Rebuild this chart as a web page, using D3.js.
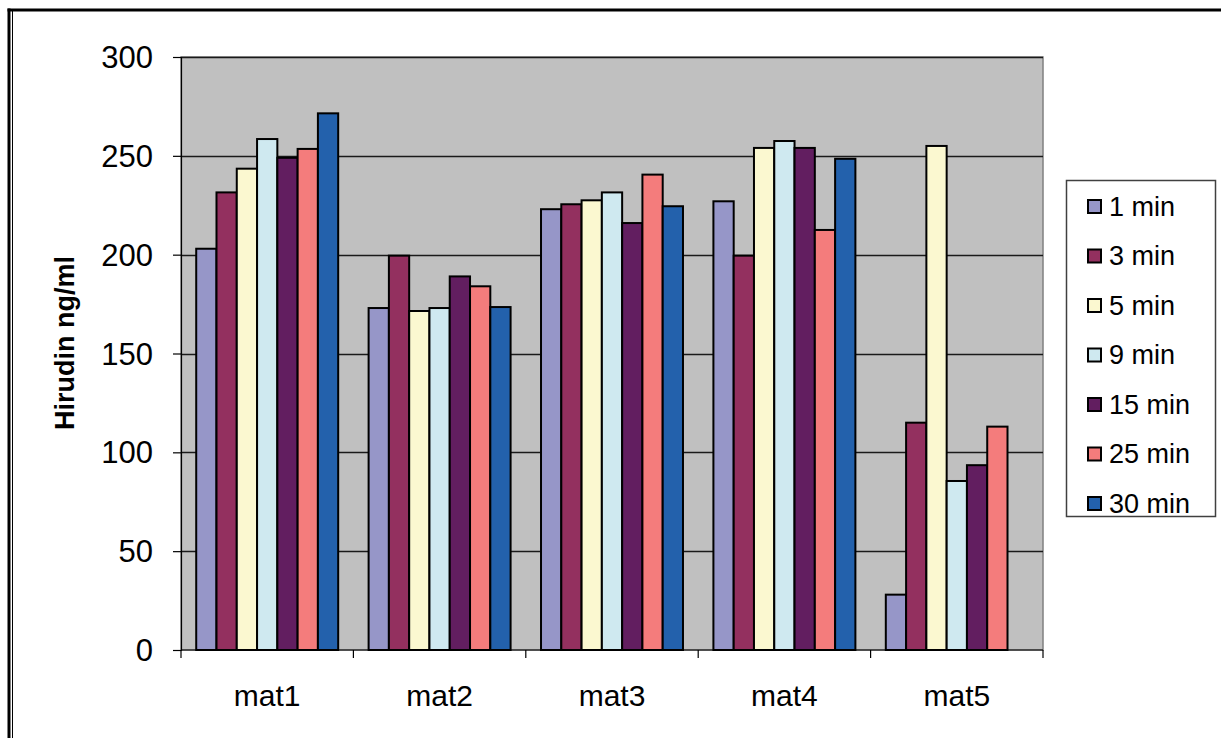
<!DOCTYPE html>
<html>
<head>
<meta charset="utf-8">
<script src="https://cdn.jsdelivr.net/npm/d3@7/dist/d3.min.js"></script>
<style>
  html, body { margin: 0; padding: 0; background: #fff; }
  svg { display: block; }
  text { font-family: "Liberation Sans", Arial, sans-serif; fill: #000; }
</style>
</head>
<body>
<svg id="chart" width="1221" height="738"></svg>
<script>
// ---- data ----
const categories = ["mat1", "mat2", "mat3", "mat4", "mat5"];
const seriesNames = ["1 min", "3 min", "5 min", "9 min", "15 min", "25 min", "30 min"];
const min1  = [203, 173, 223, 227, 28];
const min3  = [231.5, 199.5, 225.5, 199.5, 115];
const min5  = [243.5, 171.5, 227.5, 254, 255];
const min9  = [258.5, 173, 231.5, 257.5, 85.5];
const min15 = [249, 189, 216, 254, 93.5];
const min25 = [253.5, 184, 240.5, 212.5, 113];
const min30 = [271.5, 173.5, 224.5, 248.5, 0];
const seriesValues = [min1, min3, min5, min9, min15, min25, min30];
const seriesColors = ["#9696C8", "#93305F", "#FBF8D0", "#CFE9F0", "#621E60", "#F47C7C", "#2361AC"];
const yTicks = [0, 50, 100, 150, 200, 250, 300];
const yTitle = "Hirudin ng/ml";

// ---- layout ----
const svg = d3.select("#chart");
const plot = { left: 181, right: 1043, top: 57, bottom: 650 };

// outer frame (double line on the left, thick top)
svg.append("line").attr("x1", 9).attr("x2", 9).attr("y1", 8.5).attr("y2", 738)
  .attr("stroke", "#000").attr("stroke-width", 3);
svg.append("line").attr("x1", 7.5).attr("x2", 1221).attr("y1", 10).attr("y2", 10)
  .attr("stroke", "#000").attr("stroke-width", 3);
svg.append("line").attr("x1", 12.5).attr("x2", 12.5).attr("y1", 11).attr("y2", 738)
  .attr("stroke", "#000").attr("stroke-width", 1);

const y = d3.scaleLinear().domain([0, 300]).range([plot.bottom, plot.top]);
const x0 = d3.scaleBand().domain(categories).range([plot.left, plot.right]).padding(0);
const x1 = d3.scaleBand().domain(seriesNames).range([0, x0.bandwidth()])
  .paddingInner(0).paddingOuter(0.75);

// plot background
svg.append("rect")
  .attr("x", plot.left).attr("y", plot.top)
  .attr("width", plot.right - plot.left).attr("height", plot.bottom - plot.top)
  .attr("fill", "#C0C0C0").attr("stroke", "#808080").attr("stroke-width", 1.5);

// gridlines
svg.append("g").selectAll("line")
  .data(yTicks.filter(t => t > 0))
  .join("line")
  .attr("x1", plot.left).attr("x2", plot.right)
  .attr("y1", d => Math.round(y(d)) + 0.5).attr("y2", d => Math.round(y(d)) + 0.5)
  .attr("stroke", "#1a1a1a").attr("stroke-width", 1.3);

// bars
const barData = [];
categories.forEach((c, ci) => {
  seriesNames.forEach((s, si) => {
    barData.push({ cat: c, series: s, value: seriesValues[si][ci], color: seriesColors[si] });
  });
});
svg.append("g").selectAll("rect")
  .data(barData.filter(d => d.value > 0))
  .join("rect")
  .attr("x", d => x0(d.cat) + x1(d.series))
  .attr("y", d => y(d.value))
  .attr("width", x1.bandwidth())
  .attr("height", d => y(0) - y(d.value))
  .attr("fill", d => d.color)
  .attr("stroke", "#000")
  .attr("stroke-width", 2);

// y axis
const yAxis = d3.axisLeft(y).tickValues(yTicks).tickSize(8).tickPadding(20).tickFormat(d3.format("d"));
const gy = svg.append("g").attr("transform", `translate(${plot.left},0)`).call(yAxis);
gy.select(".domain").attr("stroke", "#000").attr("stroke-width", 1.2);
gy.selectAll(".tick line").attr("stroke", "#000").attr("stroke-width", 1.2);
gy.selectAll(".tick text").attr("font-size", 31).attr("font-family", "Liberation Sans, Arial, sans-serif")
  .attr("fill", "#000").attr("dy", "0.34em");

// x axis
const xAxis = d3.axisBottom(x0).tickSize(0).tickPadding(0);
const gx = svg.append("g").attr("transform", `translate(0,${plot.bottom})`).call(xAxis);
gx.select(".domain").remove();
gx.append("line").attr("x1", plot.left).attr("x2", plot.right).attr("y1", 0).attr("y2", 0)
  .attr("stroke", "#000").attr("stroke-width", 1.2);
const boundaries = categories.map(c => x0(c)).concat([x0(categories[categories.length - 1]) + x0.bandwidth()]);
gx.selectAll(".bnd").data(boundaries).join("line").attr("class", "bnd")
  .attr("x1", d => d).attr("x2", d => d).attr("y1", 0).attr("y2", 8)
  .attr("stroke", "#000").attr("stroke-width", 1.2);
gx.selectAll(".tick text").attr("font-size", 30).attr("font-family", "Liberation Sans, Arial, sans-serif")
  .attr("fill", "#000").attr("dy", null).attr("y", 56);

// y title
svg.append("text")
  .attr("transform", `translate(74,343) rotate(-90)`)
  .attr("text-anchor", "middle")
  .attr("font-size", 27).attr("font-weight", "bold")
  .text(yTitle);

// legend
const legend = svg.append("g");
legend.append("rect").attr("x", 1066.5).attr("y", 180.5).attr("width", 149).attr("height", 336)
  .attr("fill", "#fff").attr("stroke", "#404040").attr("stroke-width", 1.5);
const ly = d3.scalePoint().domain(seriesNames).range([206, 503]);
const items = legend.selectAll(".item").data(seriesNames).join("g").attr("class", "item")
  .attr("transform", d => `translate(0,${ly(d)})`);
items.append("rect").attr("x", 1088).attr("y", -6).attr("width", 13).attr("height", 13)
  .attr("fill", (d, i) => seriesColors[i]).attr("stroke", "#000").attr("stroke-width", 2);
items.append("text").attr("x", 1109).attr("y", 0).attr("dy", "0.36em")
  .attr("font-size", 27).text(d => d);
</script>
</body>
</html>
